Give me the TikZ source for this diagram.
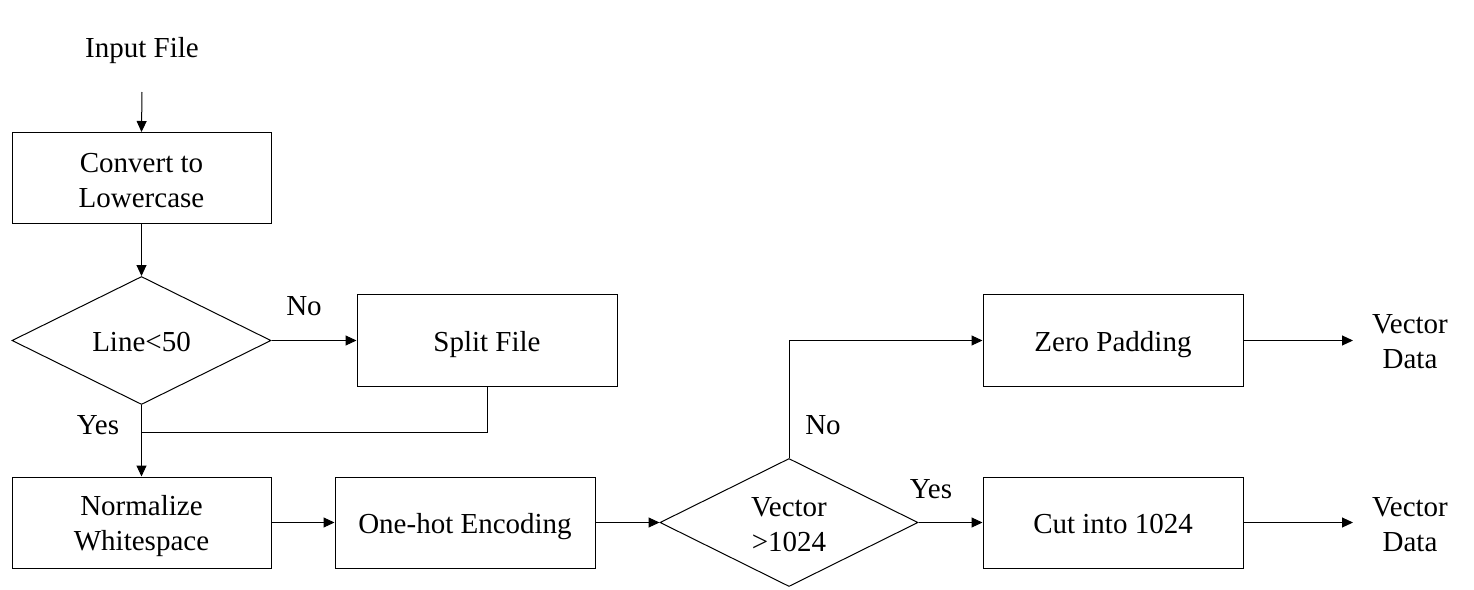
\documentclass[tikz,border=0pt]{standalone}
\usepackage{fontspec}
\setmainfont{Liberation Serif}
\usetikzlibrary{shapes.geometric,arrows.meta}
\begin{document}
\begin{tikzpicture}[x=1pt,y=-1pt,
  every node/.style={font=\fontsize{29}{35}\selectfont},
  box/.style={draw,line width=1pt,rectangle,inner sep=0pt,align=center,minimum width=259pt,minimum height=91pt},
  decision/.style={draw,line width=1pt,diamond,aspect=2,inner sep=0pt,align=center,minimum width=259pt,minimum height=128pt},
  oneline/.style={text height=21pt,text depth=0pt},
  lbl/.style={inner sep=0pt,align=center},
  conn/.style={line width=1pt},
  arr/.style={conn,-{Triangle[length=11pt,width=10pt]}}]
\useasboundingbox (0,0) rectangle (1474,589);
\node[lbl,oneline] (in) at (142,47) {Input File};
\coordinate (inb) at (142,92);
\node[box] (conv) at (141.5,178) {\rule{0pt}{24pt}Convert to\\Lowercase};
\node[decision,oneline] (d1) at (141.5,340.5) {Line<50};
\node[box,oneline,minimum width=260pt,minimum height=92pt] (split) at (487,340.5) {Split File};
\node[box] (norm) at (141.5,522.5) {Normalize\\\smash{Whitespace}};
\node[box,oneline,minimum width=260pt] (onehot) at (465,522.5) {One-hot Encoding};
\node[decision,minimum width=258pt] (d2) at (789,522.5) {\rule{0pt}{24pt}Vector\\>1024};
\node[box,oneline,minimum width=260pt,minimum height=92pt] (zero) at (1113,340.5) {Zero Padding};
\node[box,oneline,minimum width=260pt] (cut) at (1113,522.5) {Cut into 1024};
\node[lbl] (v1) at (1410,342) {Vector\\Data};
\node[lbl] (v2) at (1410,525) {Vector\\Data};
\coordinate (v1w) at (1353,340.5);
\coordinate (v2w) at (1353,522.5);
\coordinate (merge) at (141.5,432);
\node[lbl,oneline] (no1) at (304,305) {No};
\node[lbl,oneline] (yes1) at (98,424) {Yes};
\node[lbl,oneline] (no2) at (823,424) {No};
\node[lbl,oneline] (yes2) at (931,488) {Yes};
\draw[arr] (inb) -- (conv.north);
\draw[arr] (conv.south) -- (d1.north);
\draw[arr] (d1.east) -- (split.west);
\draw[conn] (split.south) |- (merge);
\draw[arr] (d1.south) -- (norm.north);
\draw[arr] (norm.east) -- (onehot.west);
\draw[arr] (onehot.east) -- (d2.west);
\draw[arr] (d2.north) |- (zero.west);
\draw[arr] (d2.east) -- (cut.west);
\draw[arr] (zero.east) -- (v1w);
\draw[arr] (cut.east) -- (v2w);
\end{tikzpicture}
\end{document}
